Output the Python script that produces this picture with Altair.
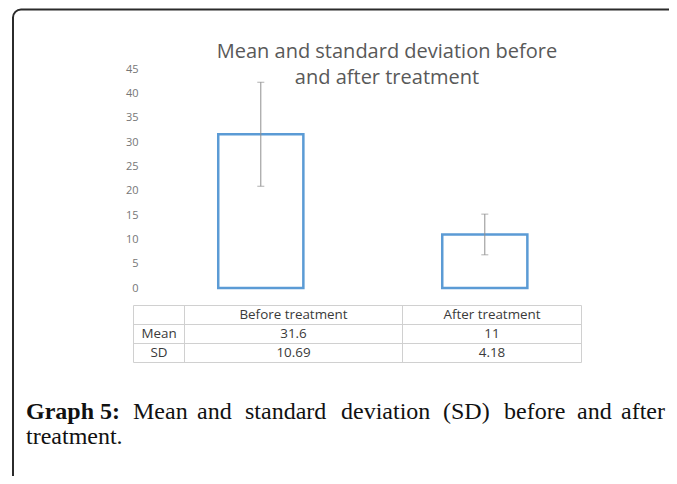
import altair as alt
import pandas as pd

# ---- data ----
categories = ["Before treatment", "After treatment"]
means = [31.6, 11]
sds = [10.69, 4.18]
y_ticks = [0, 5, 10, 15, 20, 25, 30, 35, 40, 45]
row_labels = ["Mean", "SD"]
title_lines = ["Mean and standard deviation before", "and after treatment"]
caption_bold = "Graph 5:"
caption_line1 = ["Mean", "and", "standard", "deviation", "(SD)", "before", "and", "after"]
caption_line2 = "treatment."

# ---- layout (svg pixels; page = svg + 8) ----
W, H = 661, 468
Y_RANGE = [280, 61]
X_RANGE = [140.8, 588.8]
TBL_X = [125.5, 176.5, 394.5, 573.5]          # column edges
TBL_Y = [297.5, 316.5, 335.5, 354.5]          # row edges
CAP_WORD_X = [125, 189, 237, 333, 435, 496, 569, 613]
CAP_BOLD_X = 18
CAP_Y1, CAP_Y2 = 411, 436

df = pd.DataFrame({"cat": categories, "mean": means, "sd": sds})
df["lo"] = df["mean"] - df["sd"]
df["hi"] = df["mean"] + df["sd"]

xs = alt.Scale(domain=categories, range=X_RANGE, paddingInner=0.62, paddingOuter=0.31)
ys = alt.Scale(domain=[0, 45], range=Y_RANGE, nice=False, zero=True)

base = alt.Chart(df)

bars = base.mark_bar(fill="white", stroke="#5B9BD5", strokeWidth=2.5).encode(
    x=alt.X("cat:N", sort=categories, scale=xs, axis=None),
    y=alt.Y("mean:Q", scale=ys, axis=alt.Axis(
        values=y_ticks, domain=False, ticks=False, tickSize=0, grid=False,
        labelPadding=0, offset=-130, title=None,
        labelFont="Open Sans", labelFontSize=11, labelColor="#767676")),
)

err = base.mark_rule(color="#8f8f8f", strokeWidth=1).encode(
    x=alt.X("cat:N", sort=categories, scale=xs, axis=None),
    y=alt.Y("lo:Q", scale=ys),
    y2="hi:Q",
)
cap_lo = base.mark_tick(color="#8f8f8f", thickness=1, size=7, orient="horizontal").encode(
    x=alt.X("cat:N", sort=categories, scale=xs, axis=None),
    y=alt.Y("lo:Q", scale=ys),
)
cap_hi = base.mark_tick(color="#8f8f8f", thickness=1, size=7, orient="horizontal").encode(
    x=alt.X("cat:N", sort=categories, scale=xs, axis=None),
    y=alt.Y("hi:Q", scale=ys),
)

# ---- data table ----
col_cx = [(TBL_X[i] + TBL_X[i + 1]) / 2 for i in range(3)]
row_cy = [(TBL_Y[i] + TBL_Y[i + 1]) / 2 for i in range(3)]
cells = []
for j, c in enumerate(categories):
    cells.append({"t": c, "px": col_cx[j + 1], "py": row_cy[0]})
for i, r in enumerate(row_labels):
    cells.append({"t": r, "px": col_cx[0], "py": row_cy[i + 1]})
    vals = means if r == "Mean" else sds
    for j, v in enumerate(vals):
        cells.append({"t": f"{v:g}" if r == "Mean" else f"{v:.2f}", "px": col_cx[j + 1], "py": row_cy[i + 1]})
table_text = alt.Chart(pd.DataFrame(cells)).mark_text(
    font="Open Sans", fontSize=13.4, color="#3a3a3a", baseline="middle", align="center"
).encode(x=alt.X("px:Q", scale=None), y=alt.Y("py:Q", scale=None), text="t:N")

lines = []
for yv in TBL_Y:
    lines.append({"x1": TBL_X[0], "x2": TBL_X[-1], "y1": yv, "y2": yv})
for xv in TBL_X:
    lines.append({"x1": xv, "x2": xv, "y1": TBL_Y[0], "y2": TBL_Y[-1]})
table_grid = alt.Chart(pd.DataFrame(lines)).mark_rule(color="#d0d0d0", strokeWidth=1).encode(
    x=alt.X("x1:Q", scale=None), x2="x2:Q", y=alt.Y("y1:Q", scale=None), y2="y2:Q"
)

# ---- title ----
title = alt.Chart(pd.DataFrame({"a": [0]})).mark_text(
    font="Open Sans", fontSize=20, color="#595959", align="center", baseline="alphabetic",
    lineHeight=26,
).encode(x=alt.value(379), y=alt.value(50), text=alt.value(title_lines))

# ---- caption ----
cap_df = pd.DataFrame({"w": caption_line1, "px": CAP_WORD_X, "py": [CAP_Y1] * len(caption_line1)})
cap_words = alt.Chart(cap_df).mark_text(
    font="Liberation Serif", fontSize=24, color="#111111", align="left", baseline="alphabetic"
).encode(x=alt.X("px:Q", scale=None), y=alt.Y("py:Q", scale=None), text="w:N")
cap_bold = alt.Chart(pd.DataFrame({"a": [0]})).mark_text(
    font="Liberation Serif", fontSize=24, fontWeight="bold", color="#111111", align="left",
    baseline="alphabetic",
).encode(x=alt.value(CAP_BOLD_X), y=alt.value(CAP_Y1), text=alt.value(caption_bold))
cap_l2 = alt.Chart(pd.DataFrame({"a": [0]})).mark_text(
    font="Liberation Serif", fontSize=24, color="#111111", align="left", baseline="alphabetic",
).encode(x=alt.value(CAP_BOLD_X), y=alt.value(CAP_Y2), text=alt.value(caption_line2))

# ---- frame ----
frame = alt.Chart(pd.DataFrame({"a": [0]})).mark_rect(
    fill=None, stroke="#2b2b2b", strokeWidth=2, cornerRadius=8
).encode(x=alt.value(5), y=alt.value(1.5), x2=alt.value(760), y2=alt.value(760))

chart = alt.layer(
    frame, table_grid, bars, err, cap_lo, cap_hi, table_text, title, cap_bold, cap_words, cap_l2
).properties(
    width=W, height=H, autosize=alt.AutoSizeParams(type="none"), padding=0,
    background="white",
).configure_view(stroke=None)

chart.save("out.html", embed_options={"renderer": "svg", "actions": False})
